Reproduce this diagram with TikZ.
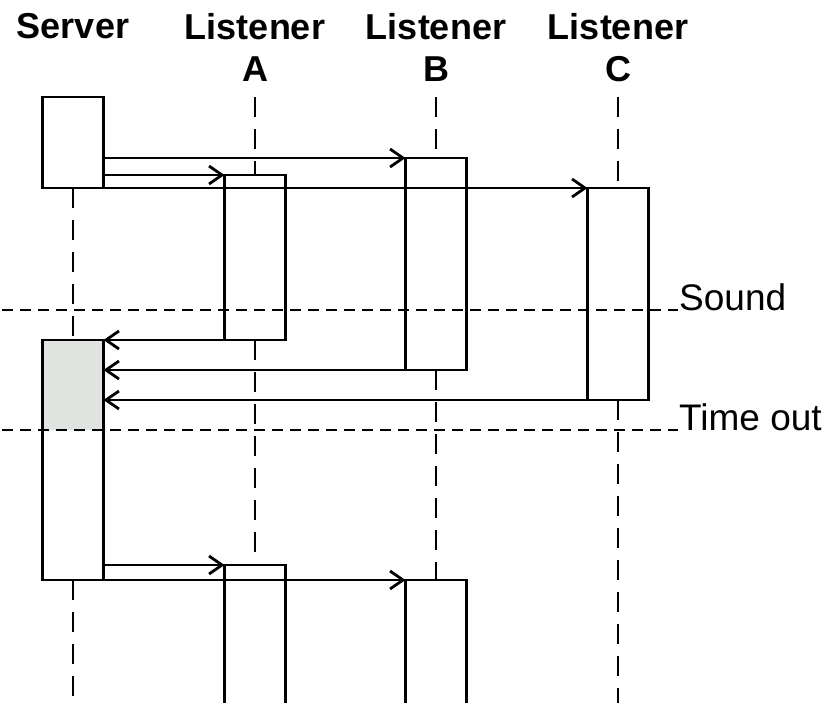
\documentclass[tikz,border=0pt]{standalone}
\usepackage{fontspec}
\setmainfont{Liberation Sans}
\usetikzlibrary{arrows.meta,positioning,calc,backgrounds}
\definecolor{ink}{HTML}{000000}
\definecolor{busy}{HTML}{E0E4E0}
\tikzset{
  act/.style={draw=ink, line width=2.8pt, minimum width=61pt, inner sep=0pt, outer sep=0pt, anchor=north},
  head/.style={font=\bfseries\fontsize{36}{42}\selectfont, text=ink, align=center, inner sep=0pt, anchor=north},
  tag/.style={font=\fontsize{37}{42}\selectfont, text=ink, inner sep=0pt, anchor=base west},
  life/.style={draw=ink, line width=2.6pt, dash pattern=on 20pt off 12pt},
  cutline/.style={draw=ink, line width=2.4pt, dash pattern=on 11pt off 7pt},
  msg/.style={-{Straight Barb[length=13pt,width=18pt]}, draw=ink, line width=2.8pt}
}

\begin{document}
\begin{tikzpicture}[x=1pt, y=-1pt]
\useasboundingbox (0,0) rectangle (825,702);
\coordinate (top) at (0,97);
\coordinate (bot) at (0,712);
\coordinate (snd) at (2,310);
\coordinate (tout) at (2,430);
% heads of the lifelines
\node[head] (hdS) at (73,13) {Server};
\node[head] (hdA) at (255,13) {Listener\\A};
\node[head] (hdB) at (436,13) {Listener\\B};
\node[head] (hdC) at (618,13) {Listener\\C};
% activations
\node[act, minimum height=91pt] (srv1) at (73,97) {};
\node[act, minimum height=240pt] (srv2) at (73,340) {};
\node[act, minimum height=165pt] (a1) at (255,175) {};
\node[act, minimum height=212pt] (b1) at (436,158) {};
\node[act, minimum height=212pt] (c1) at (618,188) {};
\node[act, minimum height=150pt] (a2) at (255,565) {};
\node[act, minimum height=135pt] (b2) at (436,580) {};
\begin{scope}[on background layer]
\fill[busy] (srv2.north west) rectangle (srv2.east |- tout);
\end{scope}
% lifelines
\draw[life] (a1.north |- top) -- (a1.north);
\draw[life] (b1.north |- top) -- (b1.north);
\draw[life] (c1.north |- top) -- (c1.north);
\draw[life] (srv1.south) -- (srv2.north);
\draw[life] (srv2.south) -- (srv2.south |- bot);
\draw[life] (a1.south) -- (a2.north);
\draw[life] (b1.south) -- (b2.north);
\draw[life] (c1.south) -- (c1.south |- bot);
% calls and replies
\draw[msg] (srv1.east |- b1.north) -- (b1.north west);
\draw[msg] (srv1.east |- a1.north) -- (a1.north west);
\draw[msg] (srv1.south east) -- (c1.north west);
\draw[msg] (a1.south east) -- (a1.south east -| srv2.east);
\draw[msg] (b1.south east) -- (b1.south east -| srv2.east);
\draw[msg] (c1.south east) -- (c1.south east -| srv2.east);
\draw[msg] (srv2.east |- a2.north) -- (a2.north west);
\draw[msg] (srv2.south east) -- (b2.north west);
% sound and time out marks
\draw[cutline] (snd) -- ++(676,0) node[tag] (lblSnd) {Sound};
\draw[cutline] (tout) -- ++(676,0) node[tag] (lblTout) {Time out};
\end{tikzpicture}
\end{document}
